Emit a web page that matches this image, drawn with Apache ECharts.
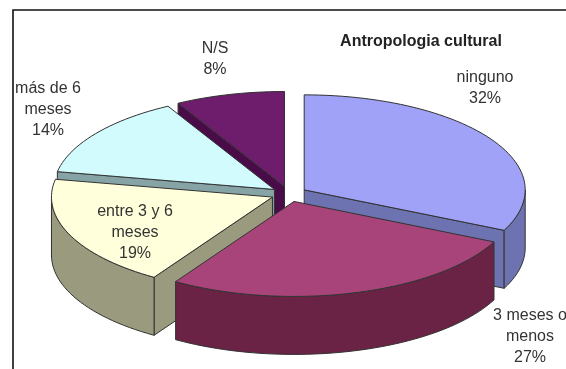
<!DOCTYPE html>
<html>
<head>
<meta charset="utf-8">
<script src="https://cdn.jsdelivr.net/npm/echarts@6/dist/echarts.min.js"></script>
<style>
  html, body { margin: 0; padding: 0; background: #ffffff; }
  #chart { width: 566px; height: 369px; }
</style>
</head>
<body>
<div id="chart"></div>
<script>
// Survey shares per answer (percent)
const categories = ['ninguno', '3 meses o menos', 'entre 3 y 6 meses', 'más de 6 meses', 'N/S'];
const shares = [32, 27, 19, 14, 8];
// How each category name is wrapped in its label
const labelNames = ['ninguno', '3 meses o\nmenos', 'entre 3 y 6\nmeses', 'más de 6\nmeses', 'N/S'];
const chartTitle = 'Antropologia cultural';

// Layout and styling of the tilted, exploded pie
const PIE = { cx: 289, cy: 194, rx: 221, ry: 95, depth: 58, explode: 18 };
const topColors = ['#A0A2F7', '#A8447A', '#FFFFDC', '#D2FBFE', '#6E1C6C'];
const wallColors = ['#6C73B0', '#6A2345', '#9A9A7E', '#86A4A6', '#4A0C49'];
const edgeColor = '#333333';
const labelAnchors = [[485, 88], [530, 337], [135, 233], [48, 110], [215, 59]];
const labelFont = '16px "Liberation Sans", Arial, sans-serif';

const total = shares.reduce((s, v) => s + v, 0);
const DEG = Math.PI / 180;

function renderSlice(params, api) {
  const i = params.dataIndex;
  const value = api.value(0);
  let before = 0;
  for (let j = 0; j < i; j++) before += shares[j];
  const a0 = before / total * 360;
  const a1 = (before + value) / total * 360;
  const mid = (a0 + a1) / 2;
  const k = PIE.ry / PIE.rx;
  // apex of the slice after pulling it out along its middle direction
  const ox = PIE.cx + PIE.explode * Math.sin(mid * DEG);
  const oy = PIE.cy - PIE.explode * Math.cos(mid * DEG) * k;
  const rim = (deg, dy) => [ox + PIE.rx * Math.sin(deg * DEG), oy - PIE.ry * Math.cos(deg * DEG) + dy];
  const arc = (from, to, dy) => {
    const pts = [];
    const n = Math.max(2, Math.ceil(Math.abs(to - from) / 2));
    for (let s = 0; s <= n; s++) pts.push(rim(from + (to - from) * s / n, dy));
    return pts;
  };
  const D = PIE.depth;
  const wallZ = Math.round((1 - Math.cos(mid * DEG)) * 10);
  const children = [];
  const wallStyle = { fill: wallColors[i], stroke: edgeColor, lineWidth: 1, lineJoin: 'round' };

  // flat side at the start angle
  if (Math.sin(a0 * DEG) < -1e-6) {
    const r0 = rim(a0, 0);
    children.push({ type: 'polygon', z2: wallZ, shape: { points: [[ox, oy], r0, [r0[0], r0[1] + D], [ox, oy + D]] }, style: wallStyle });
  }
  // flat side at the end angle
  if (Math.sin(a1 * DEG) > 1e-6) {
    const r1 = rim(a1, 0);
    children.push({ type: 'polygon', z2: wallZ, shape: { points: [[ox, oy], r1, [r1[0], r1[1] + D], [ox, oy + D]] }, style: wallStyle });
  }
  // curved outer side, front half only
  const f0 = Math.max(a0, 90), f1 = Math.min(a1, 270);
  if (f1 > f0) {
    const pts = arc(f0, f1, 0).concat(arc(f1, f0, D));
    children.push({ type: 'polygon', z2: wallZ + 1, shape: { points: pts }, style: wallStyle });
  }
  // top face
  children.push({
    type: 'polygon', z2: 50,
    shape: { points: [[ox, oy]].concat(arc(a0, a1, 0)) },
    style: { fill: topColors[i], stroke: edgeColor, lineWidth: 1, lineJoin: 'round' }
  });
  // category label with percentage
  const pct = Math.round(value / total * 100) + '%';
  children.push({
    type: 'text', z2: 60,
    x: labelAnchors[i][0], y: labelAnchors[i][1],
    style: {
      text: labelNames[i] + '\n' + pct,
      fill: '#333333', font: labelFont, lineHeight: 21,
      align: 'center', verticalAlign: 'middle'
    }
  });
  return { type: 'group', children };
}

const chart = echarts.init(document.getElementById('chart'), null, { renderer: 'canvas' });
chart.setOption({
  backgroundColor: '#ffffff',
  animation: false,
  title: {
    text: chartTitle,
    left: 416, top: 29, textAlign: 'center',
    textStyle: { fontFamily: 'Liberation Sans', fontSize: 16, fontWeight: 'bold', color: '#222222' }
  },
  graphic: [{
    type: 'polyline', silent: true,
    shape: { points: [[13, 380], [13, 10], [580, 10]] },
    style: { stroke: '#111111', lineWidth: 1.6, fill: null }
  }],
  series: [{
    type: 'custom',
    coordinateSystem: 'none',
    renderItem: renderSlice,
    data: shares.map((v, i) => ({ name: categories[i], value: [v, i] }))
  }]
});
</script>
</body>
</html>
